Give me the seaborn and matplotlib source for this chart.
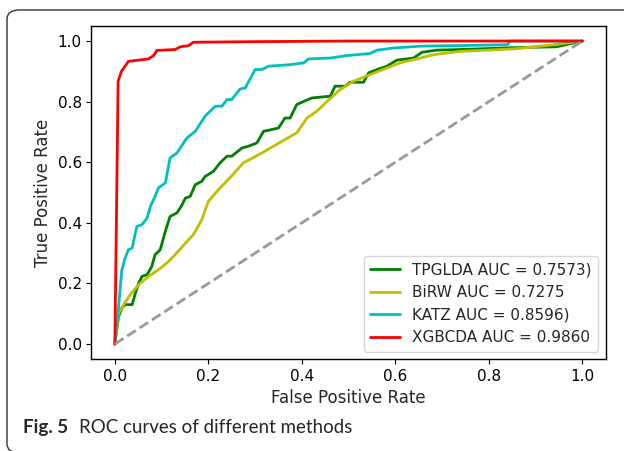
import numpy as np
import pandas as pd
import matplotlib
matplotlib.use("Agg")
import matplotlib.pyplot as plt
import seaborn as sns
from matplotlib.patches import FancyBboxPatch

# ROC points
tpglda_fpr = [0, 0.008, 0.015, 0.022, 0.037, 0.044, 0.051, 0.058, 0.069, 0.079, 0.086, 0.097,
              0.108, 0.118, 0.133, 0.144, 0.151, 0.161, 0.172, 0.186, 0.193, 0.211, 0.225, 0.240,
              0.250, 0.272, 0.286, 0.304, 0.318, 0.336, 0.350, 0.364, 0.375, 0.389, 0.400, 0.421,
              0.461, 0.471, 0.493, 0.503, 0.532, 0.543, 0.561, 0.582, 0.603, 0.639, 0.657, 0.689,
              0.739, 0.850, 0.945, 1.0]
tpglda_tpr = [0, 0.091, 0.119, 0.130, 0.130, 0.168, 0.201, 0.223, 0.229, 0.256, 0.295, 0.311,
              0.372, 0.421, 0.433, 0.460, 0.482, 0.487, 0.526, 0.537, 0.553, 0.570, 0.598, 0.620,
              0.620, 0.647, 0.653, 0.664, 0.702, 0.708, 0.713, 0.746, 0.746, 0.790, 0.798, 0.812,
              0.818, 0.851, 0.851, 0.864, 0.864, 0.895, 0.906, 0.917, 0.937, 0.944, 0.963, 0.970,
              0.972, 0.978, 0.981, 1.0]

birw_fpr = [0, 0.008, 0.019, 0.033, 0.051, 0.072, 0.093, 0.111, 0.129, 0.151, 0.168, 0.186,
            0.200, 0.222, 0.250, 0.275, 0.315, 0.364, 0.389, 0.411, 0.432, 0.454, 0.482, 0.510,
            0.546, 0.582, 0.610, 0.646, 0.682, 0.739, 0.800, 0.861, 0.946, 1.0]
birw_tpr = [0, 0.102, 0.130, 0.163, 0.196, 0.223, 0.245, 0.267, 0.295, 0.333, 0.361, 0.410,
            0.471, 0.510, 0.555, 0.598, 0.631, 0.675, 0.697, 0.746, 0.768, 0.801, 0.840, 0.867,
            0.889, 0.911, 0.928, 0.941, 0.955, 0.966, 0.970, 0.975, 0.989, 1.0]

katz_fpr = [0, 0.008, 0.015, 0.022, 0.029, 0.037, 0.047, 0.058, 0.069, 0.076, 0.086, 0.093,
            0.108, 0.118, 0.133, 0.154, 0.172, 0.193, 0.215, 0.229, 0.240, 0.250, 0.268, 0.279,
            0.300, 0.315, 0.329, 0.375, 0.404, 0.414, 0.461, 0.496, 0.546, 0.561, 0.596, 0.653,
            0.739, 0.840, 0.845, 1.0]
katz_tpr = [0, 0.124, 0.245, 0.284, 0.311, 0.317, 0.388, 0.394, 0.416, 0.454, 0.487, 0.515,
            0.532, 0.614, 0.631, 0.680, 0.702, 0.752, 0.785, 0.785, 0.807, 0.807, 0.842, 0.845,
            0.906, 0.906, 0.917, 0.922, 0.928, 0.941, 0.944, 0.952, 0.959, 0.970, 0.977, 0.983,
            0.985, 0.988, 1.0, 1.0]

xgbcda_fpr = [0, 0.007, 0.014, 0.029, 0.072, 0.083, 0.090, 0.129, 0.140, 0.158, 0.168, 0.300, 0.500, 1.0]
xgbcda_tpr = [0, 0.867, 0.900, 0.933, 0.941, 0.952, 0.969, 0.972, 0.981, 0.985, 0.996, 0.998, 1.0, 1.0]

labels = ["TPGLDA AUC = 0.7573)", "BiRW AUC = 0.7275", "KATZ AUC = 0.8596)", "XGBCDA AUC = 0.9860"]
colors = ["g", "y", "c", "r"]

sns.set_style("ticks")
plt.rcParams["font.family"] = ["DejaVu Sans"]

fig = plt.figure(figsize=(6.24, 4.51), dpi=100)
ax = fig.add_axes([0.1466, 0.2036, 0.8241, 0.739])

curves = [(tpglda_fpr, tpglda_tpr), (birw_fpr, birw_tpr), (katz_fpr, katz_tpr), (xgbcda_fpr, xgbcda_tpr)]
for (fpr, tpr), lab, col in zip(curves, labels, colors):
    df = pd.DataFrame({"fpr": fpr, "tpr": tpr})
    sns.lineplot(data=df, x="fpr", y="tpr", ax=ax, color=col, lw=2, label=lab,
                 estimator=None, sort=False)

ax.plot([0, 1], [0, 1], color="#999999", lw=2, linestyle="--")

ax.set_xlim(-0.05, 1.05)
ax.set_ylim(-0.05, 1.05)
ax.set_xticks(np.arange(0, 1.01, 0.2))
ax.set_yticks(np.arange(0, 1.01, 0.2))
ax.tick_params(labelsize=11, colors="black")
for s in ax.spines.values():
    s.set_color("black")
    s.set_linewidth(1)
ax.set_xlabel("False Positive Rate", fontsize=12)
ax.set_ylabel("True Positive Rate", fontsize=12)
ax.legend(loc="lower right", fontsize=11)

# journal frame and caption
frame = FancyBboxPatch((7 / 624, -0.004), 1.2, 1 - 10 / 451 + 0.004,
                       boxstyle="round,pad=0,rounding_size=0.02",
                       transform=fig.transFigure, fill=False, edgecolor="#333333",
                       lw=1, clip_on=False)
fig.patches.append(frame)

t1 = fig.text(23 / 624, 1 - 433 / 451, "Fig. 5", fontsize=13.5, fontweight="bold",
              family="Lato", va="baseline")
fig.text(0, 0, "")
plt.annotate("ROC curves of different methods", xy=(1, 0), xycoords=t1,
             xytext=(8, 0), textcoords="offset points", fontsize=13.5,
             family="Lato", va="bottom", annotation_clip=False)

fig.savefig("out.png", dpi=100)
